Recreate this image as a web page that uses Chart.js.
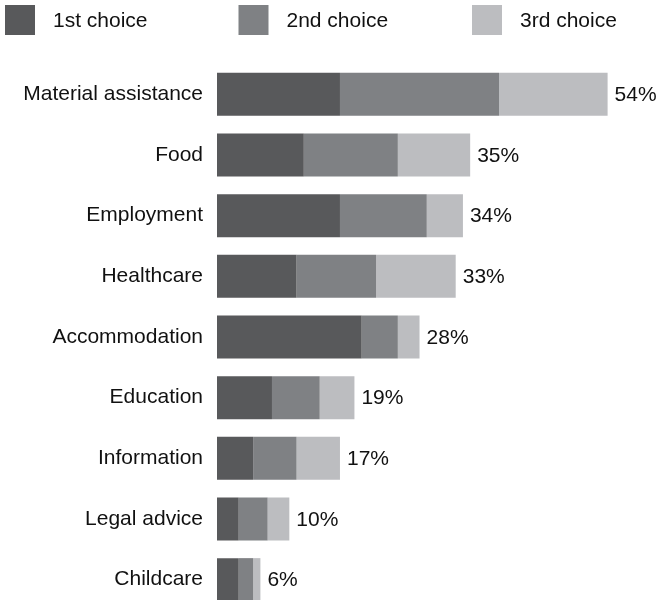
<!DOCTYPE html>
<html>
<head>
<meta charset="utf-8">
<script src="https://cdn.jsdelivr.net/npm/chart.js@4"></script>
<style>
  body { margin: 0; background: #fff; overflow: hidden; }
  canvas { display: block; }
</style>
</head>
<body>
<canvas id="chart" width="659" height="610"></canvas>
<script>
const categories = ['Material assistance', 'Food', 'Employment', 'Healthcare', 'Accommodation', 'Education', 'Information', 'Legal advice', 'Childcare'];
const choice1 = [17, 12, 17, 11, 20, 7.6, 5, 3, 3];
const choice2 = [22, 13, 12, 11, 5, 6.6, 6, 4, 2];
const choice3 = [15, 10, 5, 11, 3, 4.8, 6, 3, 1];
const seriesNames = ['1st choice', '2nd choice', '3rd choice'];
const colors = ['#58595b', '#7f8184', '#bcbdc0'];

const FONT = '"Liberation Sans", Arial, Helvetica, sans-serif';

// legend row across the top, squares spaced evenly
const topLegend = {
    id: 'topLegend',
    afterDraw(chart) {
        const ctx = chart.ctx;
        ctx.save();
        ctx.font = '21px ' + FONT;
        ctx.textBaseline = 'middle';
        chart.data.datasets.forEach((ds, i) => {
            const x = 5 + i * 233.5;
            ctx.fillStyle = ds.backgroundColor;
            ctx.fillRect(x, 5, 30, 30);
            ctx.fillStyle = '#111';
            ctx.fillText(ds.label, x + 48, 21);
        });
        ctx.restore();
    }
};

// total percentage at the end of each stacked bar
const totals = {
    id: 'totals',
    afterDatasetsDraw(chart) {
        const ctx = chart.ctx;
        const last = chart.getDatasetMeta(chart.data.datasets.length - 1);
        ctx.save();
        ctx.font = '21px ' + FONT;
        ctx.fillStyle = '#111';
        ctx.textBaseline = 'middle';
        last.data.forEach((bar, i) => {
            const sum = chart.data.datasets.reduce((s, ds) => s + ds.data[i], 0);
            ctx.fillText(Math.round(sum) + '%', bar.x + 7, bar.y + 1);
        });
        ctx.restore();
    }
};

const chart = new Chart(document.getElementById('chart'), {
    type: 'bar',
    data: {
        labels: categories,
        datasets: [choice1, choice2, choice3].map((d, i) => ({
            label: seriesNames[i],
            data: d,
            backgroundColor: colors[i],
            borderWidth: 0,
            categoryPercentage: 0.71,
            barPercentage: 1
        }))
    },
    options: {
        indexAxis: 'y',
        responsive: false,
        animation: false,
        layout: { padding: { top: 64, right: 8, bottom: 0, left: 0 } },
        plugins: {
            legend: { display: false },
            tooltip: { enabled: false }
        },
        scales: {
            x: {
                stacked: true,
                min: 0,
                max: 60,
                display: false
            },
            y: {
                stacked: true,
                grid: { display: false, drawTicks: false },
                border: { display: false },
                ticks: {
                    padding: 14,
                    color: '#111',
                    font: { family: FONT, size: 21 }
                },
                afterFit(scale) {
                    scale.width = 217;
                    // bars fill the full height, no room kept for label overhang
                    scale.paddingTop = 0;
                    scale.paddingBottom = 0;
                }
            }
        }
    },
    plugins: [topLegend, totals]
});
</script>
</body>
</html>
